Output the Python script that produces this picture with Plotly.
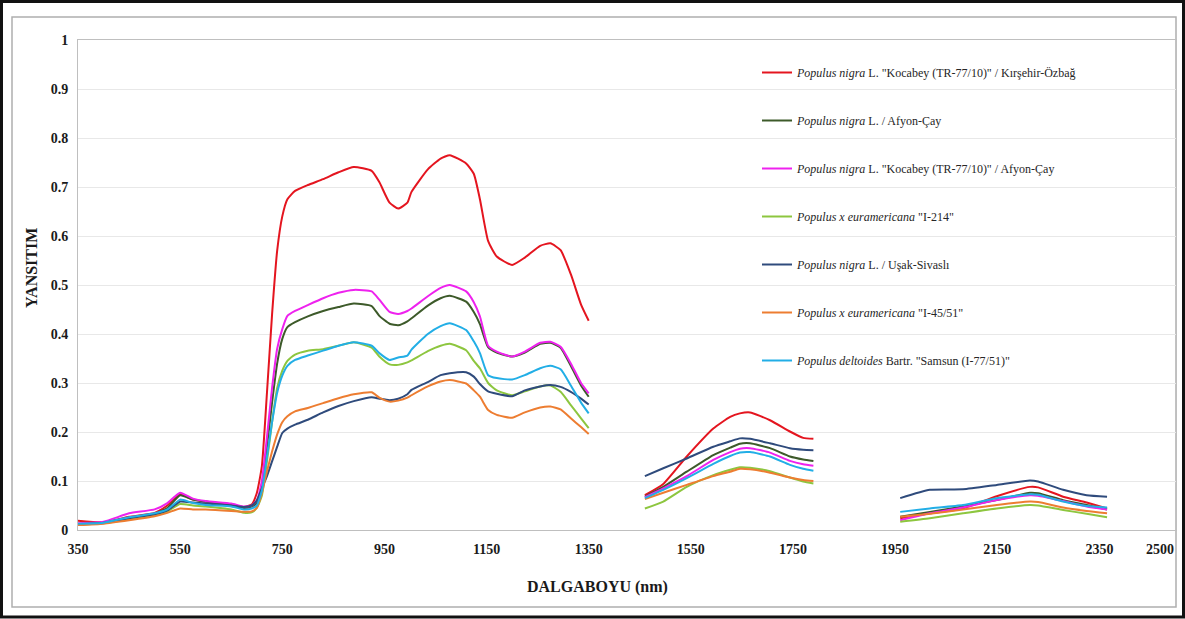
import plotly.graph_objects as go

# ---------------- data ----------------
series_names = [
    '<i>Populus nigra</i> L. "Kocabey (TR-77/10)" / Kırşehir-Özbağ',
    '<i>Populus nigra</i> L. / Afyon-Çay',
    '<i>Populus nigra</i> L. "Kocabey (TR-77/10)" / Afyon-Çay',
    '<i>Populus x euramericana</i> "I-214"',
    '<i>Populus nigra</i> L. / Uşak-Sivaslı',
    '<i>Populus x euramericana</i> "I-45/51"',
    '<i>Populus deltoides</i> Bartr. "Samsun (I-77/51)"',
]
series_colors = ["#E4151F", "#3D5A2A", "#EE22EE", "#8DC63F", "#2F4B7C", "#ED7D31", "#22AEE6"]

# segment 1 : 350-1350 nm
wl_seg1 = [350, 400, 450, 500, 525, 550, 575, 600, 650, 675, 690, 700, 710, 720, 730, 740, 750, 760,
           775, 800, 830, 860, 890, 925, 940, 960, 977, 995, 1003, 1035, 1060, 1078, 1110, 1125,
           1137, 1153, 1170, 1200, 1225, 1255, 1275, 1295, 1315, 1335, 1350]
# segment 2 : 1460-1790 nm
wl_seg2 = [1460, 1496, 1542, 1594, 1627, 1646, 1666, 1705, 1744, 1770, 1790]
# segment 3 : 1960-2365 nm
wl_seg3 = [1960, 2018, 2083, 2149, 2214, 2230, 2279, 2325, 2365]

red_seg1 = [0.019, 0.016, 0.027, 0.035, 0.050, 0.073, 0.062, 0.058, 0.052, 0.047, 0.052, 0.075, 0.13, 0.28,
            0.44, 0.57, 0.64, 0.675, 0.692, 0.704, 0.716, 0.730, 0.741, 0.733, 0.710, 0.668, 0.656, 0.668,
            0.690, 0.736, 0.758, 0.765, 0.748, 0.727, 0.675, 0.590, 0.558, 0.541, 0.556, 0.580, 0.585,
            0.571, 0.522, 0.460, 0.427]
red_seg2 = [0.071, 0.094, 0.150, 0.207, 0.231, 0.238, 0.240, 0.224, 0.201, 0.188, 0.186]
red_seg3 = [0.024, 0.034, 0.044, 0.069, 0.088, 0.087, 0.068, 0.056, 0.044]

dkgreen_seg1 = [0.012, 0.015, 0.025, 0.033, 0.045, 0.071, 0.062, 0.058, 0.050, 0.045, 0.048, 0.055, 0.09,
                0.17, 0.26, 0.34, 0.39, 0.414, 0.424, 0.436, 0.447, 0.455, 0.462, 0.457, 0.437, 0.421,
                0.418, 0.426, 0.432, 0.458, 0.473, 0.478, 0.466, 0.445, 0.420, 0.373, 0.362, 0.354,
                0.362, 0.380, 0.382, 0.372, 0.335, 0.295, 0.272]
dkgreen_seg2 = [0.068, 0.088, 0.119, 0.153, 0.168, 0.176, 0.177, 0.167, 0.150, 0.144, 0.141]
dkgreen_seg3 = [0.027, 0.037, 0.048, 0.061, 0.076, 0.075, 0.061, 0.051, 0.042]

magenta_seg1 = [0.014, 0.017, 0.034, 0.042, 0.055, 0.076, 0.064, 0.059, 0.054, 0.048, 0.050, 0.060, 0.10,
                0.19, 0.29, 0.37, 0.41, 0.437, 0.447, 0.459, 0.473, 0.484, 0.490, 0.487, 0.470, 0.445,
                0.441, 0.447, 0.452, 0.477, 0.494, 0.500, 0.487, 0.465, 0.436, 0.376, 0.364, 0.354,
                0.364, 0.382, 0.384, 0.374, 0.340, 0.300, 0.279]
magenta_seg2 = [0.067, 0.085, 0.110, 0.143, 0.159, 0.166, 0.167, 0.158, 0.141, 0.134, 0.131]
magenta_seg3 = [0.020, 0.034, 0.046, 0.061, 0.071, 0.070, 0.059, 0.048, 0.042]

green_seg1 = [0.011, 0.014, 0.022, 0.030, 0.038, 0.053, 0.050, 0.048, 0.042, 0.035, 0.036, 0.045, 0.07,
              0.14, 0.22, 0.29, 0.325, 0.345, 0.358, 0.366, 0.369, 0.376, 0.383, 0.372, 0.354, 0.338,
              0.337, 0.342, 0.346, 0.365, 0.376, 0.380, 0.367, 0.345, 0.330, 0.300, 0.285, 0.275,
              0.283, 0.293, 0.295, 0.282, 0.255, 0.228, 0.208]
green_seg2 = [0.044, 0.058, 0.088, 0.112, 0.123, 0.128, 0.127, 0.120, 0.107, 0.099, 0.095]
green_seg3 = [0.017, 0.024, 0.034, 0.044, 0.051, 0.050, 0.041, 0.033, 0.026]

navy_seg1 = [0.012, 0.015, 0.024, 0.032, 0.040, 0.058, 0.056, 0.054, 0.050, 0.047, 0.050, 0.060, 0.085,
             0.11, 0.14, 0.17, 0.198, 0.207, 0.215, 0.225, 0.240, 0.253, 0.263, 0.271, 0.268, 0.265,
             0.268, 0.277, 0.286, 0.302, 0.316, 0.320, 0.322, 0.313, 0.298, 0.283, 0.278, 0.273,
             0.285, 0.293, 0.296, 0.292, 0.282, 0.268, 0.256]
navy_seg2 = [0.110, 0.126, 0.146, 0.170, 0.181, 0.187, 0.186, 0.177, 0.167, 0.164, 0.163]
navy_seg3 = [0.065, 0.082, 0.083, 0.092, 0.101, 0.099, 0.082, 0.071, 0.068]

orange_seg1 = [0.010, 0.013, 0.020, 0.028, 0.035, 0.044, 0.042, 0.042, 0.039, 0.037, 0.038, 0.045, 0.075,
               0.12, 0.16, 0.195, 0.22, 0.232, 0.242, 0.249, 0.259, 0.269, 0.277, 0.281, 0.270, 0.262,
               0.264, 0.270, 0.275, 0.293, 0.303, 0.306, 0.299, 0.285, 0.272, 0.245, 0.235, 0.229,
               0.240, 0.250, 0.252, 0.246, 0.228, 0.210, 0.196]
orange_seg2 = [0.063, 0.076, 0.092, 0.110, 0.119, 0.125, 0.124, 0.117, 0.107, 0.102, 0.100]
orange_seg3 = [0.027, 0.033, 0.042, 0.051, 0.058, 0.057, 0.046, 0.039, 0.034]

cyan_seg1 = [0.013, 0.015, 0.026, 0.034, 0.042, 0.062, 0.055, 0.051, 0.048, 0.042, 0.044, 0.050, 0.08,
             0.15, 0.22, 0.28, 0.315, 0.335, 0.347, 0.356, 0.366, 0.376, 0.383, 0.376, 0.361, 0.347,
             0.352, 0.356, 0.368, 0.400, 0.416, 0.422, 0.408, 0.385, 0.361, 0.316, 0.310, 0.307,
             0.316, 0.330, 0.335, 0.328, 0.295, 0.260, 0.238]
cyan_seg2 = [0.065, 0.082, 0.106, 0.135, 0.151, 0.158, 0.159, 0.150, 0.133, 0.125, 0.121]
cyan_seg3 = [0.037, 0.044, 0.051, 0.065, 0.073, 0.072, 0.058, 0.049, 0.046]

series_values = [
    (red_seg1, red_seg2, red_seg3),
    (dkgreen_seg1, dkgreen_seg2, dkgreen_seg3),
    (magenta_seg1, magenta_seg2, magenta_seg3),
    (green_seg1, green_seg2, green_seg3),
    (navy_seg1, navy_seg2, navy_seg3),
    (orange_seg1, orange_seg2, orange_seg3),
    (cyan_seg1, cyan_seg2, cyan_seg3),
]

x_min, x_max = 350, 2500
x_tick_vals = [350, 550, 750, 950, 1150, 1350, 1550, 1750, 1950, 2150, 2350]
x_tick_text = [str(v) for v in x_tick_vals]

# ---------------- figure ----------------
FONT = "Liberation Serif"
W, H = 1185, 619
L, R, T, B = 78, 9, 40, 89

fig = go.Figure()
x_all = wl_seg1 + [None] + wl_seg2 + [None] + wl_seg3
for name, color, (s1, s2, s3) in zip(series_names, series_colors, series_values):
    fig.add_trace(go.Scatter(
        x=x_all, y=s1 + [None] + s2 + [None] + s3,
        mode="lines", name=name, legendgroup=name,
        line=dict(color=color, width=2, shape="spline", smoothing=0.5), connectgaps=False,
    ))

pw = W - L - R
ph = H - T - B
def px_x(p):
    return (p - L) / pw
def px_y(p):
    return (H - B - p) / ph

tick_font = dict(family=FONT, size=14, weight="bold", color="#1a1a1a")

fig.update_layout(
    width=W, height=H,
    margin=dict(l=L, r=R, t=T, b=B, autoexpand=False),
    paper_bgcolor="white", plot_bgcolor="white",
    font=dict(family=FONT, color="#1a1a1a"),
    showlegend=True,
    legend=dict(
        x=px_x(757), y=px_y(58), xanchor="left", yanchor="top",
        bgcolor="rgba(0,0,0,0)", borderwidth=0,
        font=dict(family=FONT, size=12, color="#262626"),
        tracegroupgap=29, itemwidth=30,
    ),
    xaxis=dict(
        range=[x_min, x_max], tickmode="array", tickvals=x_tick_vals, ticktext=x_tick_text,
        showgrid=False, zeroline=False,
        showline=True, linecolor="#BFBFBF", linewidth=1, mirror=True,
        tickfont=tick_font, ticks="", ticklabelstandoff=6,
    ),
    yaxis=dict(
        range=[0, 1], dtick=0.1, tick0=0,
        showgrid=True, gridcolor="#E8E8E8", gridwidth=1, zeroline=False,
        showline=True, linecolor="#BFBFBF", linewidth=1, mirror=True,
        tickfont=tick_font, ticks="", ticklabelstandoff=6,
    ),
    annotations=[
        # end-of-axis label (Excel pulls it inside the chart area)
        dict(text="<b>%d</b>" % x_max, xref="x", yref="paper",
             x=x_max, y=px_y(549), xanchor="right", yanchor="middle",
             showarrow=False, font=dict(family=FONT, size=14, color="#1a1a1a")),
        dict(text="<b>DALGABOYU (nm)</b>", xref="paper", yref="paper",
             x=px_x(597), y=px_y(587), xanchor="center", yanchor="middle",
             showarrow=False, font=dict(family=FONT, size=16, color="#1a1a1a")),
        dict(text="<b>YANSITIM</b>", xref="paper", yref="paper",
             x=px_x(31), y=px_y(268), xanchor="center", yanchor="middle", textangle=-90,
             showarrow=False, font=dict(family=FONT, size=16, color="#1a1a1a")),
    ],
    shapes=[
        dict(type="rect", xref="paper", yref="paper",
             x0=px_x(12), x1=px_x(1176), y0=px_y(607), y1=px_y(17),
             line=dict(color="#AFAFAF", width=1.5), fillcolor="rgba(0,0,0,0)", layer="below"),
        dict(type="rect", xref="paper", yref="paper",
             x0=px_x(1.5), x1=px_x(1183.5), y0=px_y(617), y1=px_y(1.5),
             line=dict(color="#111111", width=3), fillcolor="rgba(0,0,0,0)", layer="above"),
    ],
)

fig.write_html("out.html", config={"displayModeBar": False},
               post_script="document.body.style.margin='0';document.body.style.padding='0';")
